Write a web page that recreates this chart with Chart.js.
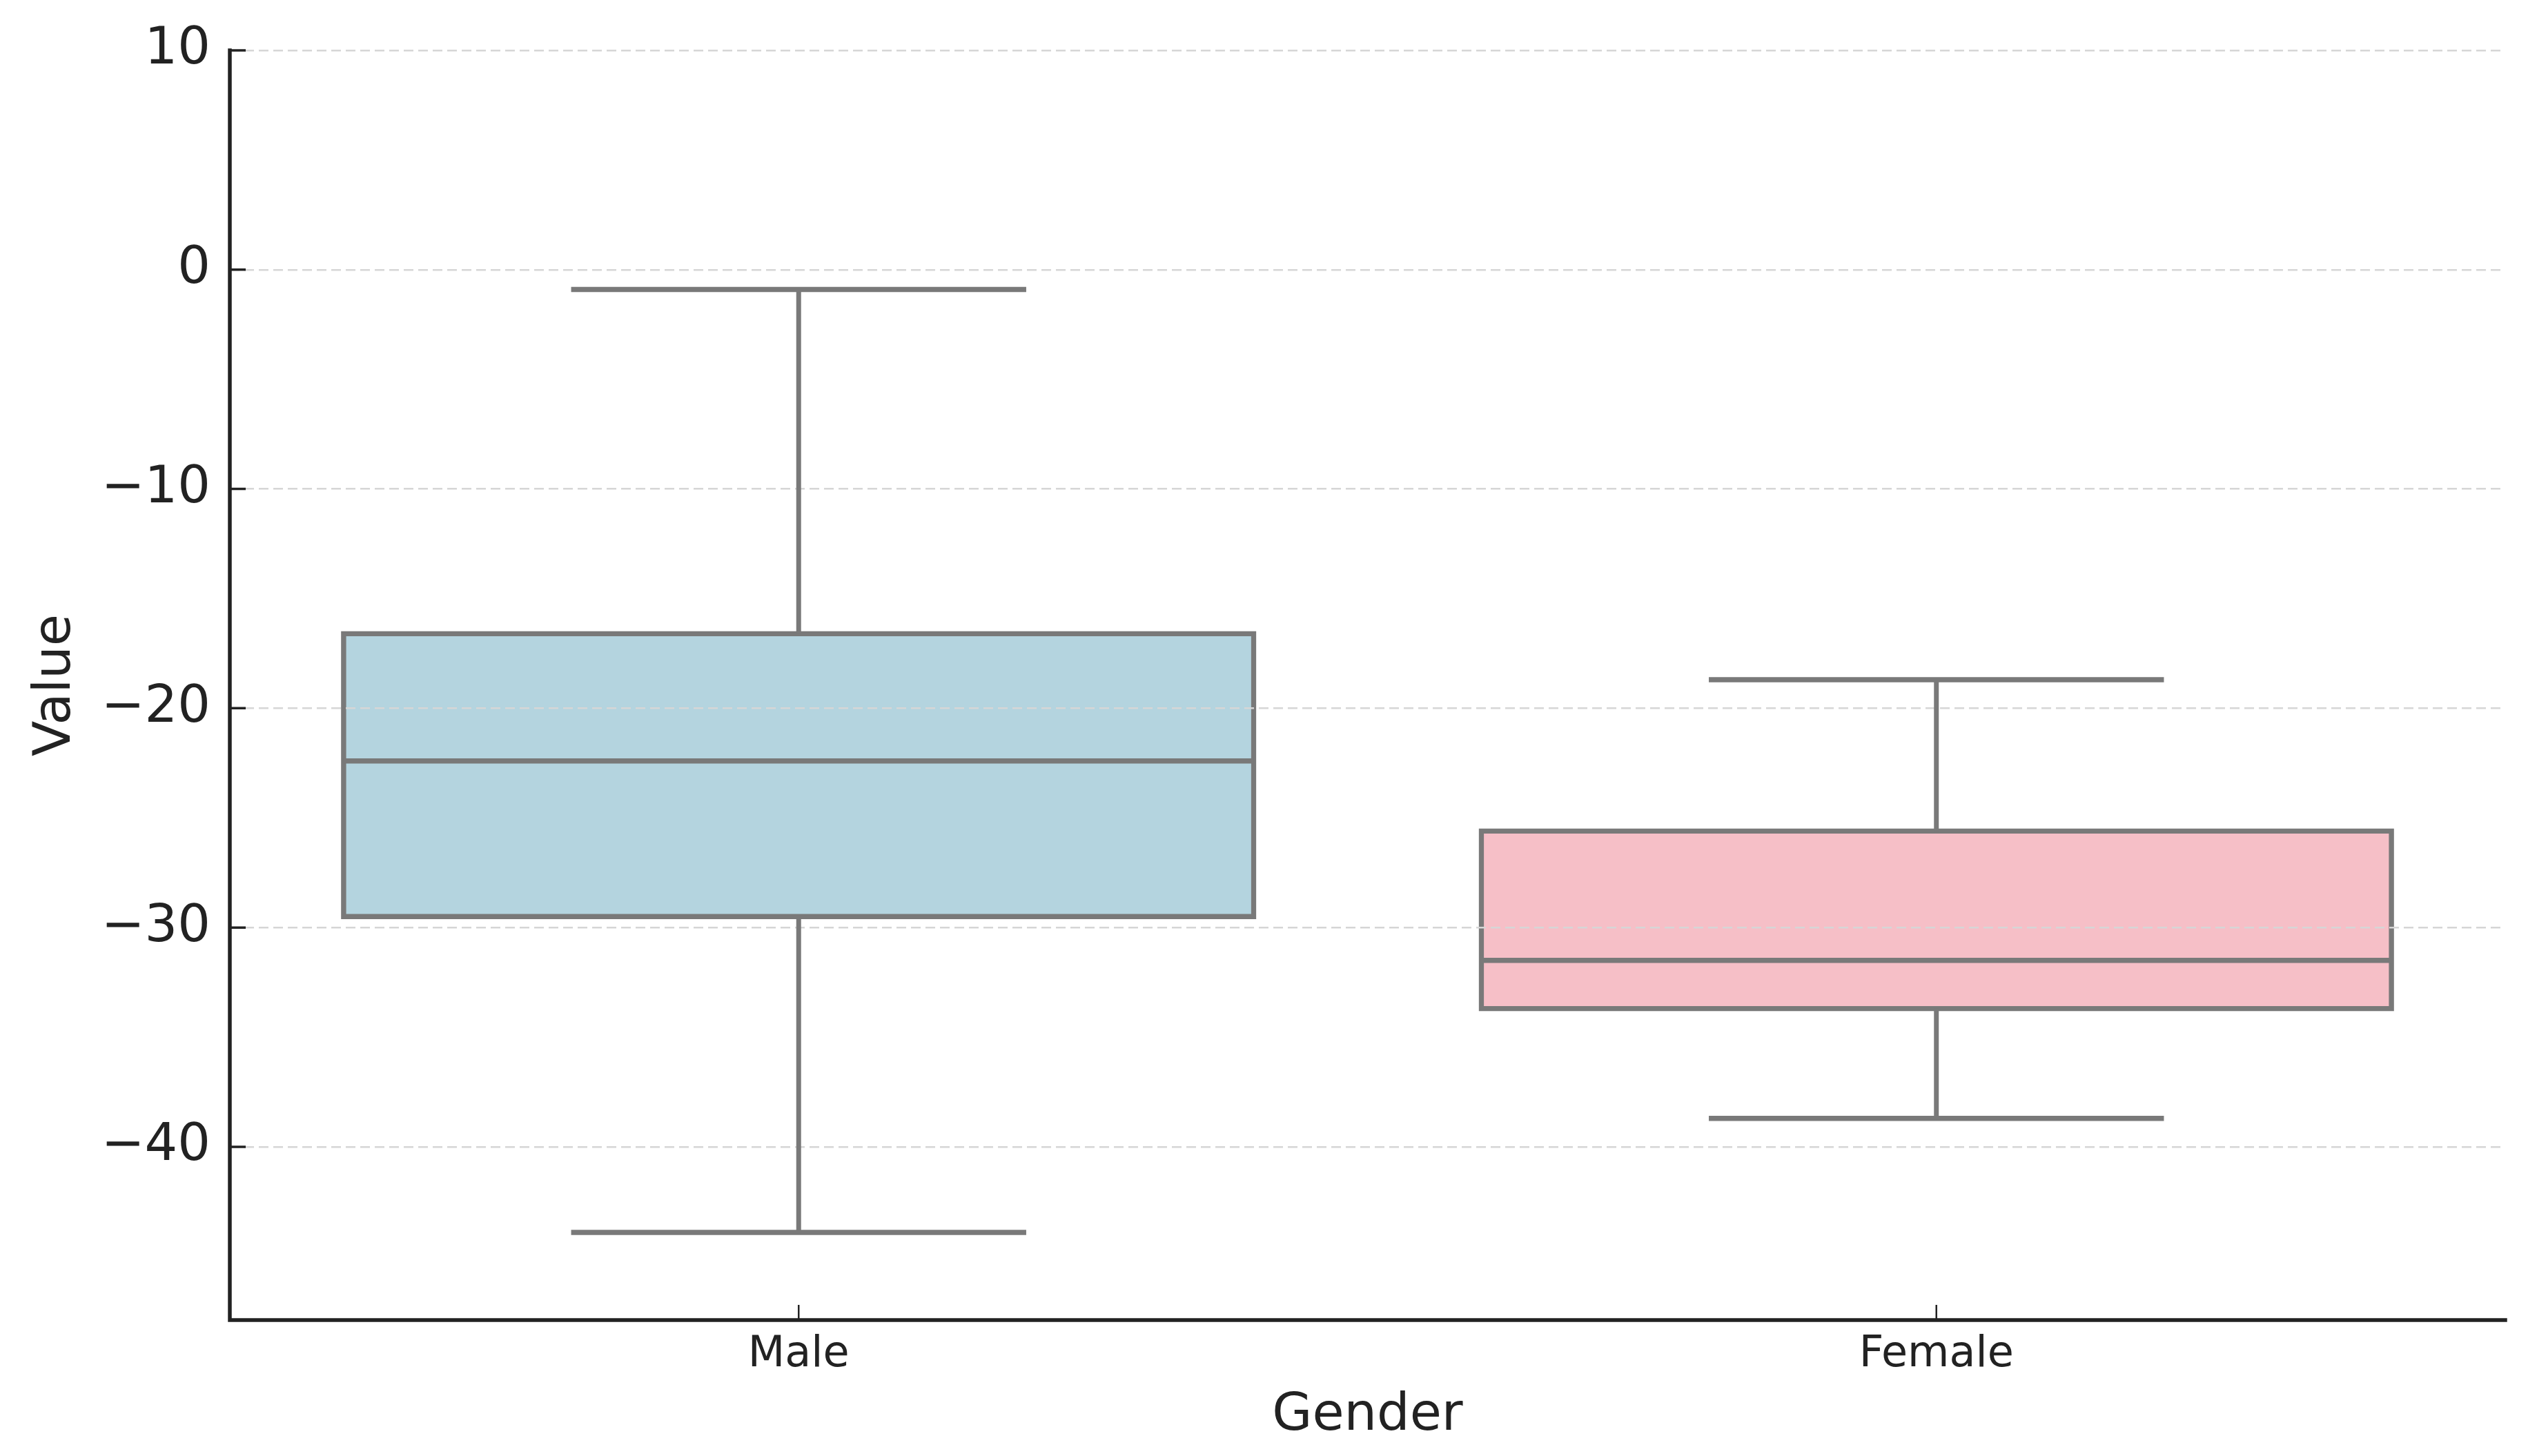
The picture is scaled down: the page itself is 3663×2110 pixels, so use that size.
<!DOCTYPE html>
<html>
<head>
<meta charset="utf-8">
<script src="https://cdn.jsdelivr.net/npm/chart.js@4.4.0/dist/chart.umd.min.js"></script>
<style>
  html, body { margin: 0; padding: 0; background: #fff; }
  #wrap { width: 3663px; height: 2110px; }
</style>
</head>
<body>
<div id="wrap"><canvas id="box-chart"></canvas></div>
<script>
// box plot stats
const genders = ['Male', 'Female'];
const whiskerLow = [-43.9, -38.7];
const q1 = [-29.5, -33.7];
const median = [-22.4, -31.5];
const q3 = [-16.6, -25.6];
const whiskerHigh = [-0.9, -18.7];
const yTicks = [10, 0, -10, -20, -30, -40];
const boxColors = ['#b4d4df', '#f6bfc7'];

const edgeColor = '#797979';
const axisColor = '#222222';

// whiskers, caps, medians, spines and inward ticks
const boxExtras = {
  id: 'boxExtras',
  afterDraw(chart) {
    const ctx = chart.ctx;
    const x = chart.scales.x;
    const y = chart.scales.y;
    const area = chart.chartArea;
    const bars = chart.getDatasetMeta(0).data;
    ctx.save();
    ctx.strokeStyle = edgeColor;
    ctx.lineCap = 'butt';
    bars.forEach((bar, i) => {
      const cx = bar.x;
      const half = bar.width / 2;
      ctx.lineWidth = 7;
      ctx.beginPath();
      ctx.moveTo(cx, y.getPixelForValue(q3[i]));
      ctx.lineTo(cx, y.getPixelForValue(whiskerHigh[i]));
      ctx.moveTo(cx, y.getPixelForValue(q1[i]));
      ctx.lineTo(cx, y.getPixelForValue(whiskerLow[i]));
      ctx.stroke();
      ctx.lineWidth = 7.5;
      ctx.beginPath();
      [whiskerHigh[i], whiskerLow[i]].forEach(v => {
        const py = y.getPixelForValue(v);
        ctx.moveTo(cx - half / 2, py);
        ctx.lineTo(cx + half / 2, py);
      });
      const my = y.getPixelForValue(median[i]);
      ctx.moveTo(cx - half, my);
      ctx.lineTo(cx + half, my);
      ctx.stroke();
    });

    // left and bottom spines
    ctx.strokeStyle = axisColor;
    ctx.lineWidth = 5.5;
    ctx.lineCap = 'square';
    ctx.beginPath();
    ctx.moveTo(area.left, area.top);
    ctx.lineTo(area.left, area.bottom);
    ctx.lineTo(area.right, area.bottom);
    ctx.stroke();

    // ticks pointing into the plot
    ctx.lineCap = 'butt';
    ctx.lineWidth = 3.5;
    ctx.beginPath();
    yTicks.forEach(v => {
      const py = y.getPixelForValue(v);
      ctx.moveTo(area.left, py);
      ctx.lineTo(area.left + 23, py);
    });
    ctx.stroke();
    ctx.lineWidth = 2.5;
    ctx.beginPath();
    genders.forEach((g, i) => {
      const px = x.getPixelForValue(i);
      ctx.moveTo(px, area.bottom);
      ctx.lineTo(px, area.bottom - 22);
    });
    ctx.stroke();
    ctx.restore();
  }
};

const ctx = document.getElementById('box-chart').getContext('2d');
new Chart(ctx, {
  type: 'bar',
  data: {
    labels: genders,
    datasets: [{
      data: genders.map((g, i) => [q1[i], q3[i]]),
      backgroundColor: boxColors,
      borderColor: edgeColor,
      borderWidth: 7.5,
      borderSkipped: false,
      inflateAmount: 3.75,
      barPercentage: 0.8,
      categoryPercentage: 1.0
    }]
  },
  options: {
    responsive: true,
    maintainAspectRatio: false,
    devicePixelRatio: 1,
    animation: false,
    layout: { padding: { top: 70, right: 33, left: 0, bottom: 0 } },
    plugins: { legend: { display: false }, tooltip: { enabled: false } },
    scales: {
      x: {
        offset: true,
        grid: { display: false, drawTicks: false },
        border: { display: false },
        ticks: {
          color: axisColor,
          padding: 14,
          font: { family: 'DejaVu Sans', size: 62 }
        },
        title: {
          display: true,
          text: 'Gender',
          color: axisColor,
          font: { family: 'DejaVu Sans', size: 75 },
          padding: { top: 0, bottom: 12 }
        },
        afterFit(scale) { scale.height = 197; }
      },
      y: {
        min: -47.9,
        max: 10,
        afterBuildTicks(scale) { scale.ticks = yTicks.map(v => ({ value: v })); },
        grid: { color: '#d6d6d6', lineWidth: 2.5, drawTicks: false, z: 1 },
        border: { display: false, dash: [14, 7] },
        ticks: {
          color: axisColor,
          padding: 28,
          font: { family: 'DejaVu Sans', size: 75 },
          callback: v => String(v).replace('-', '\u2212')
        },
        title: {
          display: true,
          text: 'Value',
          color: axisColor,
          font: { family: 'DejaVu Sans', size: 75 },
          padding: { top: 37, bottom: 0 }
        },
        afterFit(scale) { scale.width = 333; }
      }
    }
  },
  plugins: [boxExtras]
});
</script>
</body>
</html>
